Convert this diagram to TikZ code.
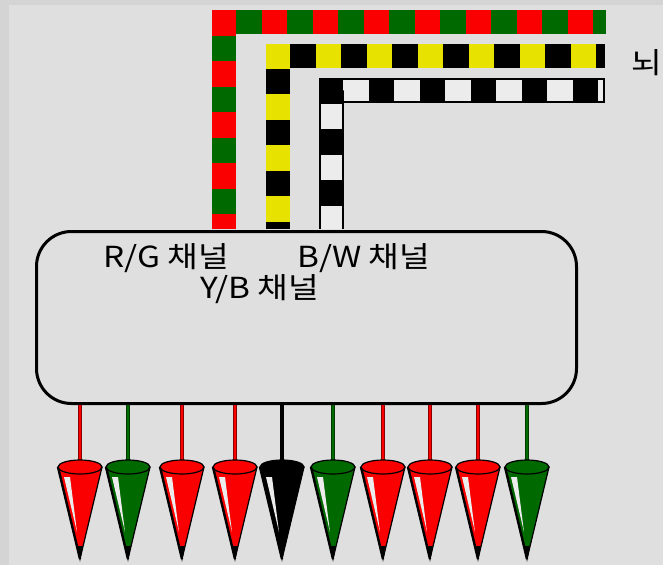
\documentclass[tikz,border=0pt]{standalone}
\usepackage{fontspec}
\newfontfamily\kofont[FakeStretch=1.15]{Noto Sans CJK KR}
\definecolor{bg}{RGB}{223,223,223}
\definecolor{rim}{RGB}{212,212,212}
\definecolor{wred}{RGB}{250,0,0}
\definecolor{wgreen}{RGB}{0,105,0}
\definecolor{wyellow}{RGB}{232,226,0}
\definecolor{wwhite}{RGB}{236,236,236}
\definecolor{wblack}{RGB}{0,0,0}

\begin{document}
\begin{tikzpicture}[x=1pt, y=-1pt,
    cable/.style={line width=24pt, line join=miter, shorten <=1.5pt},
    stripe/.style={cable, dash pattern=on 25.5pt off 25.5pt},
    wire/.style={line width=0.8pt, double distance=2.6pt},
    chtext/.style={font=\kofont\fontsize{29}{31}\selectfont, anchor=base west, inner sep=0pt}]
    % background
    \fill[rim] (0,0) rectangle (663,565);
    \fill[bg] (9,5) rectangle (663,565);
    \useasboundingbox (0,0) rectangle (663,565);

    \node[draw, line width=3pt, rounded corners=35pt, fill=bg, inner sep=0pt,
          minimum width=540pt, minimum height=172pt] (ecu) at (306.5,317.5) {};

    % cables
    \coordinate (rgend) at (606,22);
    \coordinate (ybend) at (605,55.5);
    \coordinate (bwend) at (605,90);
    \draw[cable, wgreen] (224,0 |- ecu.north) -- (224,22) -- (rgend);
    \draw[stripe, wred, dash phase=11pt] (224,0 |- ecu.north) -- (224,22) -- (rgend);
    \draw[cable, wyellow] (277.5,0 |- ecu.north) -- (277.5,55.5) -- (ybend);
    \draw[stripe, wblack, dash phase=18.5pt] (277.5,0 |- ecu.north) -- (277.5,55.5) -- (ybend);
    \draw[cable, wblack, line width=25pt] (331,0 |- ecu.north) -- (331,90) -- (bwend);
    \draw[cable, wwhite, line width=21pt] (331,0 |- ecu.north) -- (331,90) -- (603,90);
    \draw[stripe, wblack, line width=25pt, dash phase=28pt] (331,0 |- ecu.north) -- (331,90) -- (bwend);

    \node[chtext] (rglbl) at (103,267) {R/G 채널};
    \node[chtext] (bwlbl) at (297,267) {B/W 채널};
    \node[chtext] (yblbl) at (200,298) {Y/B 채널};
    \node[chtext, anchor=west] (brain) at (631,63) {뇌};

    % wires and cones
    \foreach \x/\col [count=\i] in {80/wred, 128/wgreen, 182/wred, 235/wred, 282/wblack,
                                   333/wgreen, 383/wred, 430/wred, 478/wred, 527/wgreen} {
        \coordinate (cone\i) at (\x,461);
        \draw[wire, draw=\col!55!black, double=\col] (\x,0 |- ecu.south) -- (cone\i);
        \filldraw[fill=\col, line width=1.2pt, line join=round] (\x-22,467) -- (\x,559) -- (\x+22,467) -- cycle;
        \fill[wwhite] (\x-16,477) -- (\x-10,477) -- (\x-3,532) -- cycle;
        \draw[line width=2.4pt] (\x-22,467) -- (\x,559);
        \fill (\x-3,546) -- (\x,562) -- (\x+3,546) -- cycle;
        \filldraw[fill=\col, line width=1.2pt] (\x,467) ellipse [x radius=22, y radius=7];
    }
\end{tikzpicture}
\end{document}
